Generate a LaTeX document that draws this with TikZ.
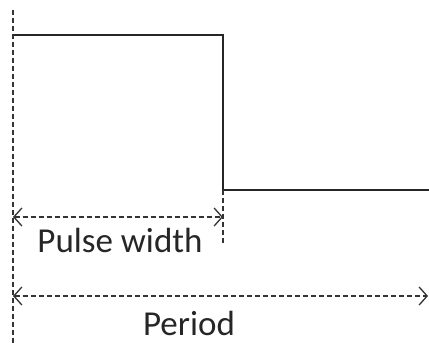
\documentclass[tikz,border=0pt]{standalone}
\usepackage{fontspec}
\setmainfont{Carlito}
\usetikzlibrary{arrows.meta}
\begin{document}
\begin{tikzpicture}[x=1pt,y=-1pt,
    signal/.style={line width=2pt,black!85},
    guide/.style={line width=1.6pt,black!80,dash pattern=on 5pt off 3pt},
    span/.style={line width=1.6pt,black!80,dash pattern=on 5pt off 3pt,
      {Straight Barb[length=8pt,width=18pt,line width=1.3pt]}-{Straight Barb[length=8pt,width=18pt,line width=1.3pt]}},
    caption/.style={font=\fontsize{35}{40}\selectfont,text=black!85,anchor=base,text depth=0pt,inner sep=0pt}]
  \useasboundingbox (0,0) rectangle (429,343);
  \coordinate (start) at (13,35);
  \coordinate (fall) at (223,35);
  \coordinate (low) at (223,190);
  \coordinate (end) at (429,190);
  \draw[signal] (start)--(fall)--(low)--(end);
  \draw[guide] (13,10)--(13,343);
  \draw[guide] (low)--(223,243);
  \draw[span] (13,217)--(223,217);
  \node[caption] (pw) at (120,252) {Pulse width};
  \draw[span] (13,296)--(428,296);
  \node[caption] (per) at (189,335) {Period};
\end{tikzpicture}
\end{document}
